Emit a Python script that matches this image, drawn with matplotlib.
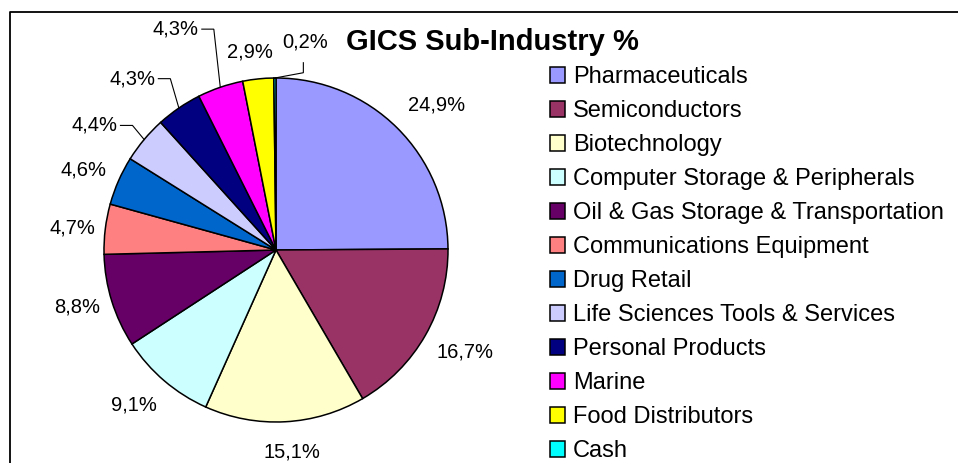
import matplotlib
matplotlib.use("Agg")
import matplotlib.pyplot as plt
import numpy as np

# GICS sub-industry weights (%), clockwise from 12 o'clock
sectors = [
    "Pharmaceuticals",
    "Semiconductors",
    "Biotechnology",
    "Computer Storage & Peripherals",
    "Oil & Gas Storage & Transportation",
    "Communications Equipment",
    "Drug Retail",
    "Life Sciences Tools & Services",
    "Personal Products",
    "Marine",
    "Food Distributors",
    "Cash",
]
weights = [24.9, 16.7, 15.1, 9.1, 8.8, 4.7, 4.6, 4.4, 4.3, 4.3, 2.9, 0.2]
pct_labels = ["24,9%", "16,7%", "15,1%", "9,1%", "8,8%", "4,7%",
              "4,6%", "4,4%", "4,3%", "4,3%", "2,9%", "0,2%"]
colors = ["#9999FF", "#993366", "#FFFFCC", "#CCFFFF", "#660066", "#FF8080",
          "#0066CC", "#CCCCFF", "#000080", "#FF00FF", "#FFFF00", "#00FFFF"]

# label placement (radius factor, angular nudge in degrees) and leader lines
label_dist = [1.256, 1.25, 1.18, 1.22, 1.20, 1.19, 1.21, 1.28, 1.30, 1.41, 1.16, 1.22]
label_shift = [-3.0, 1.3, 1.4, -2.0, -1.3, 0.8, 1.2, 5.5, 5.6, 5.5, 1.6, -8.4]
leaders = {7: "side", 8: "side", 9: "side", 11: "below"}

W, H = 958, 463
plt.rcParams['font.family'] = ['Liberation Sans', 'DejaVu Sans']

fig = plt.figure(figsize=(W / 100, H / 100), dpi=100)
ax = fig.add_axes([0, 0, 1, 1])


def py(y):
    # pixel row (from top) -> data y
    return H - y


cx, cy, r = 276, py(250), 172
wedges, _ = ax.pie(weights, colors=colors, startangle=90, counterclock=False,
                   center=(cx, cy), radius=r,
                   wedgeprops=dict(edgecolor='black', linewidth=1.1))
ax.set_xlim(0, W)
ax.set_ylim(0, H)
ax.set_aspect('equal')
ax.axis('off')

texts = []
for w, lab, f, s in zip(wedges, pct_labels, label_dist, label_shift):
    a = np.deg2rad((w.theta1 + w.theta2) / 2 + s)
    t = ax.text(cx + f * r * np.cos(a), cy + f * r * np.sin(a), lab,
                ha='center', va='center', fontsize=14.5)
    texts.append(t)

fig.canvas.draw()
renderer = fig.canvas.get_renderer()
for i, kind in leaders.items():
    w = wedges[i]
    a = np.deg2rad((w.theta1 + w.theta2) / 2)
    ex, ey = cx + r * np.cos(a), cy + r * np.sin(a)
    bb = texts[i].get_window_extent(renderer)
    if kind == "side":
        sx, sy = bb.x1 + 3, (bb.y0 + bb.y1) / 2
        xs, ys = [sx, sx + 12, ex], [sy, sy, ey]
    else:
        sx = (bb.x0 + bb.x1) / 2 - 2
        xs, ys = [sx, sx, ex], [bb.y0 - 11, bb.y0 - 21, ey]
    ax.plot(xs, ys, color='black', lw=0.8, solid_joinstyle='miter')

ax.text(492, py(50), "GICS Sub-Industry %", ha='center', va='baseline',
        fontsize=21, fontweight='bold')

ax.legend(wedges, sectors, loc='upper left', bbox_to_anchor=(550, py(66)),
          bbox_transform=ax.transData, frameon=False, fontsize=17,
          handlelength=0.64, handleheight=0.64, handletextpad=0.34,
          labelspacing=0.51, borderpad=0, borderaxespad=0)

# chart area border (top and left edges visible)
ax.plot([10, 10, W + 5], [-5, py(12), py(12)], color='black', lw=1.3,
        clip_on=False)

fig.savefig("out.png", dpi=100)
